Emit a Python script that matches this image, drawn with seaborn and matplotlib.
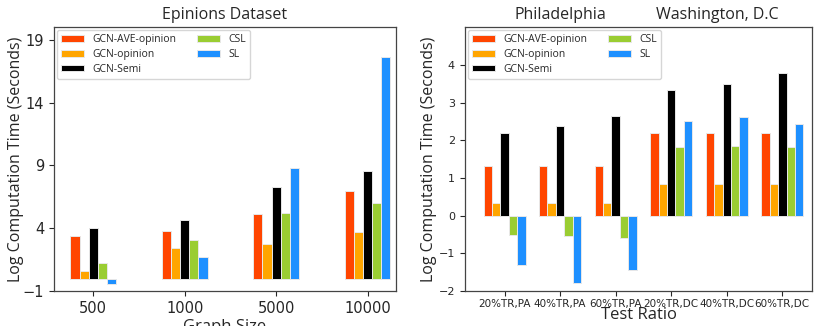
import matplotlib
matplotlib.use("Agg")
import matplotlib.pyplot as plt
import seaborn as sns
import pandas as pd

methods = ["GCN-AVE-opinion", "GCN-opinion", "GCN-Semi", "CSL", "SL"]
colors = ["#FF4500", "#FFA500", "#000000", "#9ACD32", "#1E90FF"]

sizes = ["500", "1000", "5000", "10000"]
ep_ave = [3.37, 3.82, 5.12, 7.00]
ep_opinion = [0.62, 2.39, 2.76, 3.72]
ep_semi = [4.00, 4.64, 7.26, 8.56]
ep_csl = [1.23, 3.05, 5.20, 6.00]
ep_sl = [-0.44, 1.75, 8.80, 17.60]

ratios = ["20%TR,PA", "40%TR,PA", "60%TR,PA", "20%TR,DC", "40%TR,DC", "60%TR,DC"]
pd_ave = [1.33, 1.33, 1.33, 2.20, 2.20, 2.20]
pd_opinion = [0.33, 0.33, 0.33, 0.83, 0.83, 0.83]
pd_semi = [2.18, 2.37, 2.65, 3.32, 3.50, 3.79]
pd_csl = [-0.52, -0.54, -0.59, 1.83, 1.85, 1.82]
pd_sl = [-1.32, -1.78, -1.45, 2.51, 2.61, 2.42]

def long_df(cats, series, catname):
    rows = []
    for m, vals in zip(methods, series):
        for c, v in zip(cats, vals):
            rows.append({catname: c, "method": m, "value": v})
    return pd.DataFrame(rows)

df_left = long_df(sizes, [ep_ave, ep_opinion, ep_semi, ep_csl, ep_sl], "size")
df_right = long_df(ratios, [pd_ave, pd_opinion, pd_semi, pd_csl, pd_sl], "ratio")

sns.set_theme(style="ticks")
plt.rcParams["font.family"] = ["DejaVu Sans"]
label_font = "Open Sans"

fig = plt.figure(figsize=(8.18, 3.26), dpi=100)
ax1 = fig.add_axes([0.066, 0.107, 0.418, 0.810])
ax2 = fig.add_axes([0.568, 0.107, 0.425, 0.810])

palette = dict(zip(methods, colors))

sns.barplot(data=df_left, x="size", y="value", hue="method", hue_order=methods,
            palette=palette, width=0.5, edgecolor="#e8e8e8", linewidth=0.7,
            errorbar=None, ax=ax1, saturation=1)
sns.barplot(data=df_right, x="ratio", y="value", hue="method", hue_order=methods,
            palette=palette, width=0.76, edgecolor="#e8e8e8", linewidth=0.7,
            errorbar=None, ax=ax2, saturation=1)

for ax in (ax1, ax2):
    for s in ax.spines.values():
        s.set_visible(True)
        s.set_color("#444444")
        s.set_linewidth(0.9)

ax1.set_xlim(-0.43, 3.31)
ax1.set_ylim(-1, 20.0)
ax1.set_yticks([-1, 4, 9, 14, 19])
ax1.tick_params(axis="both", labelsize=10.5, length=3.5, width=0.8)
ax1.set_xlabel("Graph Size", fontsize=12, family=label_font, labelpad=2)
ax1.set_ylabel("Log Computation Time (Seconds)", fontsize=11.5, family=label_font)
ax1.yaxis.set_label_coords(-0.088, 0.5)
ax1.set_title("Epinions Dataset", fontsize=11.5, family=label_font, pad=6)

ax2.set_xlim(-0.72, 5.54)
ax2.set_ylim(-2, 5.0)
ax2.set_yticks([-2, -1, 0, 1, 2, 3, 4])
ax2.tick_params(axis="y", labelsize=8, length=3.5, width=0.8)
ax2.tick_params(axis="x", labelsize=7.5, length=3.5, width=0.8, pad=2)
ax2.set_xlabel("Test Ratio", fontsize=12, family=label_font, labelpad=-1)
ax2.set_ylabel("Log Computation Time (Seconds)", fontsize=11.5, family=label_font)
ax2.yaxis.set_label_coords(-0.08, 0.5)

fig.text(0.685, 0.955, "Philadelphia", ha="center", va="center", fontsize=11.5, family=label_font)
fig.text(0.877, 0.955, "Washington, D.C", ha="center", va="center", fontsize=11.5, family=label_font)

for ax in (ax1, ax2):
    leg = ax.legend(loc="upper left", ncol=2, frameon=True,
                    prop={"family": label_font, "size": 7.5},
                    handlelength=2.2, handleheight=0.6, columnspacing=2.0,
                    borderaxespad=0.3, labelspacing=0.35)
    leg.get_frame().set_edgecolor("#cccccc")

fig.savefig("out.png", dpi=100)
